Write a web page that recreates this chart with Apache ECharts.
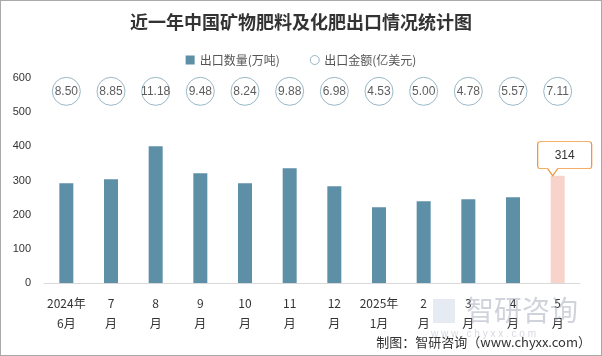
<!DOCTYPE html>
<html><head><meta charset="utf-8">
<script src="https://cdn.jsdelivr.net/npm/echarts@6/dist/echarts.min.js"></script>
<style>html,body{margin:0;padding:0;background:#fff}#c{width:602px;height:356px;box-sizing:border-box;border:1px solid #a9a9a9}</style>
</head><body><div id="c"></div>
<script>
var categories = ['2024年\n6月','7\n月','8\n月','9\n月','10\n月','11\n月','12\n月','2025年\n1月','2\n月','3\n月','4\n月','5\n月'];
var volume = [292, 304, 400, 321, 292, 336, 283, 222, 239, 245, 251, 314];
var amount = ['8.50','8.85','11.18','9.48','8.24','9.88','6.98','4.53','5.00','4.78','5.57','7.11'];
var yTicks = [0, 100, 200, 300, 400, 500, 600];
var bubbleRow = 561;

var chart = echarts.init(document.getElementById('c'), null, {renderer:'canvas'});
var barData = volume.map(function(v,i){
  return i === volume.length-1 ? {value:v, itemStyle:{color:'#f8d3cb'}} : v;
});
var circleData = amount.map(function(a,i){ return {value:[i, bubbleRow], amt:a}; });
chart.setOption({
  animation:false,
  title:{text:'近一年中国矿物肥料及化肥出口情况统计图', left:'center', top:7,
    textStyle:{fontFamily:'Noto Sans CJK SC', fontWeight:'bold', fontSize:18, color:'#333'}},
  legend:{top:48, left:'center', itemGap:30, itemWidth:9, itemHeight:9,
    textStyle:{fontFamily:'Noto Sans CJK SC', fontSize:12, color:'#555'},
    data:[{name:'出口数量(万吨)', icon:'rect'},{name:'出口金额(亿美元)', icon:'circle', itemStyle:{color:'#fff', borderColor:'#7fa5b8', borderWidth:1}}]},
  grid:{left:43, right:21, top:77, bottom:72},
  xAxis:{type:'category', data:categories,
    axisLine:{lineStyle:{color:'#d9d9d9'}}, axisTick:{show:false},
    axisLabel:{color:'#333', fontSize:12, lineHeight:20, margin:10, interval:0, fontFamily:'Noto Sans CJK SC'}},
  yAxis:{type:'value', min:yTicks[0], max:yTicks[yTicks.length-1], interval:100,
    axisLine:{show:false}, axisTick:{show:false}, splitLine:{show:false},
    axisLabel:{color:'#333', fontSize:11, margin:13, fontFamily:'Liberation Sans'}},
  series:[
    {name:'出口数量(万吨)', type:'bar', data:barData, barWidth:14, itemStyle:{color:'#5d8fa6'},
      markPoint:{symbol:'path://M3,0 H51 Q54,0 54,3 V24 Q54,27 51,27 H20 L15,34 L10,27 H3 Q0,27 0,24 V3 Q0,0 3,0 Z',
        symbolSize:[54,34], symbolKeepAspect:false, symbolOffset:[7,-17],
        itemStyle:{color:'#fff', borderColor:'#f0953a', borderWidth:1},
        label:{show:true, color:'#333', fontSize:12, offset:[0,-3], fontFamily:'Liberation Sans',
          formatter:function(p){return p.value;}},
        data:[{coord:[volume.length-1, volume[volume.length-1]], value:volume[volume.length-1]}]}},
    {name:'出口金额(亿美元)', type:'scatter', data:circleData, symbol:'circle', symbolSize:28,
      itemStyle:{color:'#fff', borderColor:'#7fa5b8', borderWidth:1},
      label:{show:true, position:'inside', color:'#333', fontSize:12, fontFamily:'Liberation Sans',
        formatter:function(p){return p.data.amt;}}, z:3}
  ],
  graphic:[
    {type:'text', right:10, top:335, style:{text:'制图：智研咨询（www.chyxx.com）', fill:'#333', fontSize:13, fontFamily:'Noto Sans CJK SC'}},
    {type:'text', left:465, top:295, z:100, style:{text:'智研咨询', fill:'rgba(150,158,175,0.45)', fontSize:28, fontFamily:'Noto Sans CJK SC'}},
    {type:'text', left:430, top:328, z:100, style:{text:'w w w . c h y x x . c o m', fill:'rgba(150,158,175,0.4)', fontSize:10, fontFamily:'Liberation Sans'}},
    {type:'rect', left:432, top:298, z:100, shape:{width:22, height:24}, style:{fill:'rgba(170,185,215,0.3)'}}
  ]
});
</script></body></html>
